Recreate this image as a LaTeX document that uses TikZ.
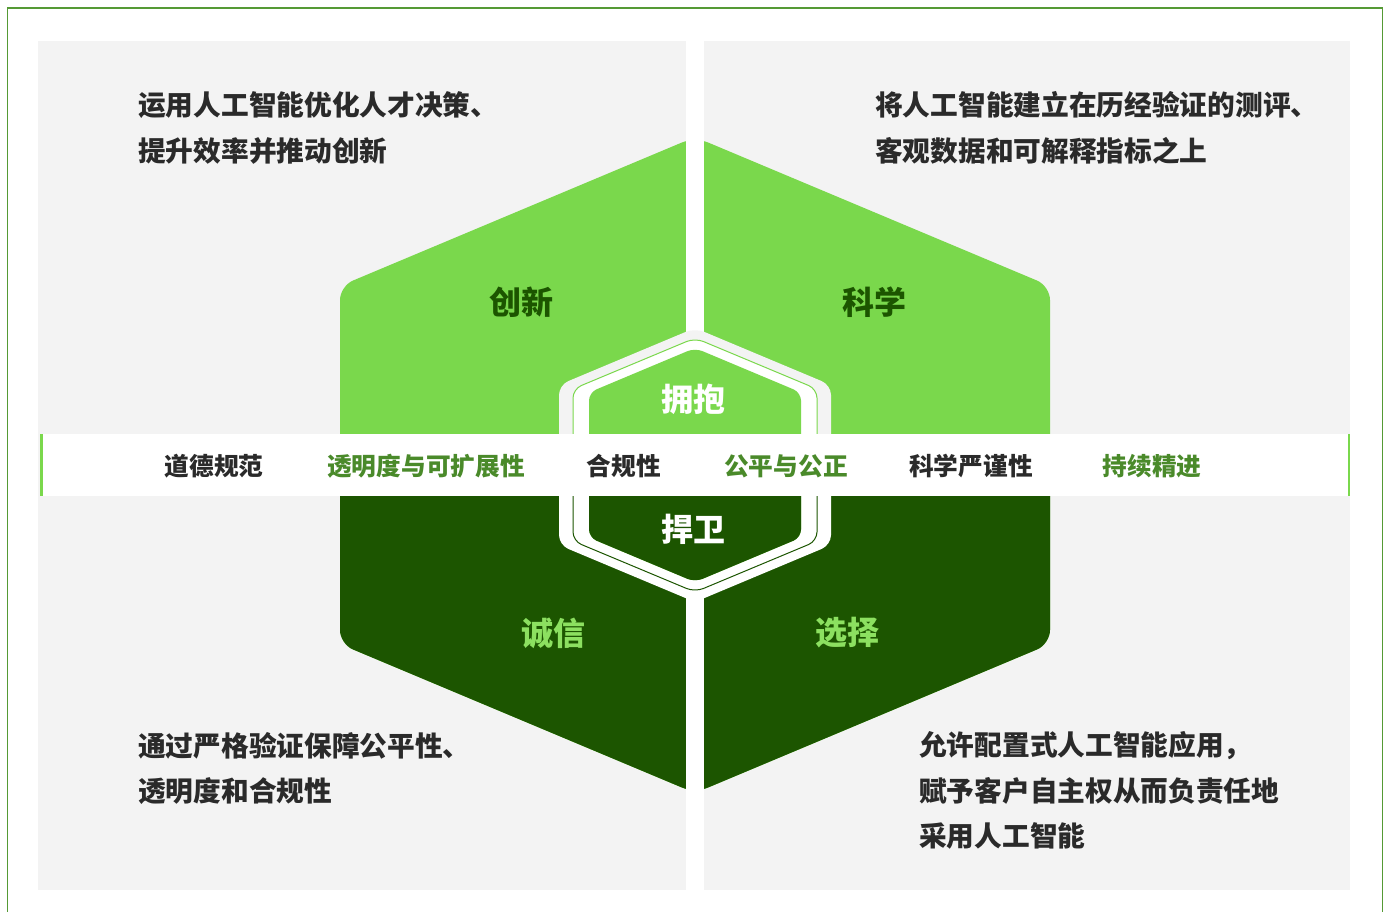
\documentclass[tikz,border=0pt]{standalone}
\usepackage{fontspec}
\setmainfont{Noto Sans CJK SC}
\definecolor{panel}{HTML}{F3F3F3}
\definecolor{lightg}{HTML}{7AD84C}
\definecolor{darkg}{HTML}{1C5500}
\definecolor{bordergreen}{HTML}{559A35}
\definecolor{bandgreen}{HTML}{4A8A2A}
\definecolor{txt}{HTML}{2A2A2A}
\definecolor{lbllight}{HTML}{8CE060}
\tikzset{
  body/.style={anchor=west, inner sep=0pt, text=txt, font=\fontsize{27.7}{30}\selectfont\bfseries},
  bandtxt/.style={anchor=center, inner sep=0pt, font=\fontsize{24.7}{28}\selectfont\bfseries},
  hexlbl/.style={anchor=center, inner sep=0pt, font=\fontsize{32}{36}\selectfont\bfseries},
}
\begin{document}
\begin{tikzpicture}[x=1pt,y=-1pt]
\useasboundingbox (0,0) rectangle (1389,911);
\fill[white] (0,0) rectangle (1389,911);
\draw[bordergreen, line width=1.5pt] (7.5,8) rectangle (1382.5,940);
% panels
\fill[panel] (38,41) rectangle (686,890);
\fill[panel] (704,41) rectangle (1350,890);
% big hexagon
\fill[lightg, rounded corners=14pt] (695,137) -- (1050,286) -- (1050,644) -- (695,793) -- (340,644) -- (340,286) -- cycle;
\begin{scope}
\clip (0,465) rectangle (1389,911);
\fill[darkg, rounded corners=14pt] (695,137) -- (1050,286) -- (1050,644) -- (695,793) -- (340,644) -- (340,286) -- cycle;
\end{scope}
% vertical gap
\fill[white] (686,41) rectangle (704,890);
% inner hexagon A
\begin{scope}
\clip (0,0) rectangle (1389,465);
\fill[panel, rounded corners=10pt] (695,328) -- (831,385) -- (831,545) -- (695,602) -- (559,545) -- (559,385) -- cycle;
\end{scope}
\begin{scope}
\clip (0,465) rectangle (1389,911);
\fill[white, rounded corners=10pt] (695,328) -- (831,385) -- (831,545) -- (695,602) -- (559,545) -- (559,385) -- cycle;
\end{scope}
% inner hexagon B
\fill[white, rounded corners=9pt] (695,338) -- (817,389) -- (817,541) -- (695,592) -- (573,541) -- (573,389) -- cycle;
\begin{scope}
\clip (0,0) rectangle (1389,465);
\draw[lightg, line width=1pt, rounded corners=9pt] (695,338) -- (817,389) -- (817,541) -- (695,592) -- (573,541) -- (573,389) -- cycle;
\end{scope}
\begin{scope}
\clip (0,465) rectangle (1389,911);
\draw[darkg, line width=1pt, rounded corners=9pt] (695,338) -- (817,389) -- (817,541) -- (695,592) -- (573,541) -- (573,389) -- cycle;
\end{scope}
% inner hexagon C
\fill[lightg, rounded corners=8pt] (695,348) -- (801,392.5) -- (801,537.5) -- (695,582) -- (589,537.5) -- (589,392.5) -- cycle;
\begin{scope}
\clip (0,465) rectangle (1389,911);
\fill[darkg, rounded corners=8pt] (695,348) -- (801,392.5) -- (801,537.5) -- (695,582) -- (589,537.5) -- (589,392.5) -- cycle;
\end{scope}
% band
\fill[white] (40,434) rectangle (1350,496);
\fill[lightg] (40,434) rectangle (42.5,496);
\fill[lightg] (1347.5,434) rectangle (1350,496);
% band texts
\node[bandtxt, text=txt] (b1) at (214,466) {道德规范};
\node[bandtxt, text=bandgreen] (b2) at (426,466) {透明度与可扩展性};
\node[bandtxt, text=txt] (b3) at (624,466) {合规性};
\node[bandtxt, text=bandgreen] (b4) at (786,466) {公平与公正};
\node[bandtxt, text=txt] (b5) at (971,466) {科学严谨性};
\node[bandtxt, text=bandgreen] (b6) at (1152,466) {持续精进};
% hexagon labels
\node[hexlbl, text=darkg] (l1) at (521,302) {创新};
\node[hexlbl, text=darkg] (l2) at (874,302) {科学};
\node[hexlbl, text=lbllight] (l3) at (553,633) {诚信};
\node[hexlbl, text=lbllight] (l4) at (847,633) {选择};
\node[hexlbl, text=white] (l5) at (693,399) {拥抱};
\node[hexlbl, text=white] (l6) at (693,529) {捍卫};
% body texts
\node[body] (tl1) at (138,105) {运用人工智能优化人才决策、};
\node[body] (tl2) at (138,151) {提升效率并推动创新};
\node[body] (tr1) at (875,105) {将人工智能建立在历经验证的测评、};
\node[body] (tr2) at (875,151) {客观数据和可解释指标之上};
\node[body] (bl1) at (138,746) {通过严格验证保障公平性、};
\node[body] (bl2) at (138,791) {透明度和合规性};
\node[body] (br1) at (919,746) {允许配置式人工智能应用，};
\node[body] (br2) at (919,791) {赋予客户自主权从而负责任地};
\node[body] (br3) at (919,836) {采用人工智能};
\end{tikzpicture}
\end{document}
